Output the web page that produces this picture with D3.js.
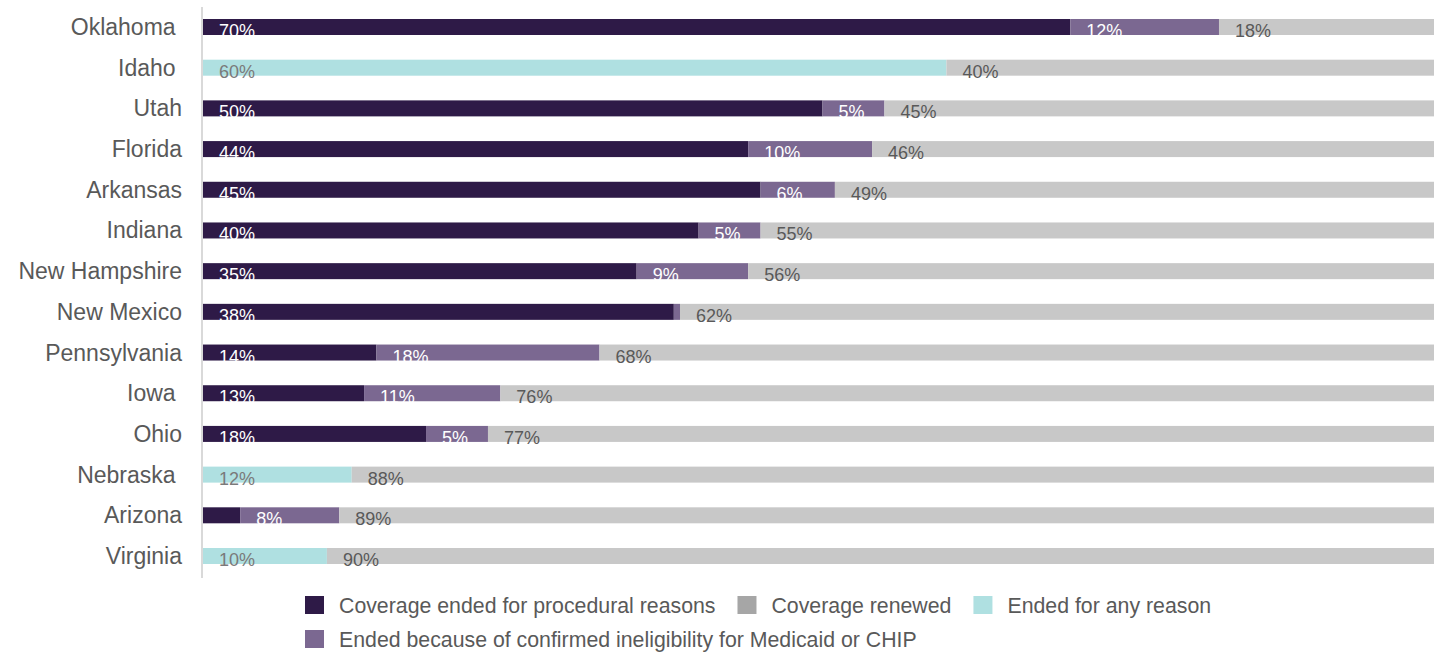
<!DOCTYPE html>
<html>
<head>
<meta charset="utf-8">
<script src="https://cdn.jsdelivr.net/npm/d3@7"></script>
<style>
  body { margin: 0; background: #fff; }
  svg { display: block; font-family: "Liberation Sans", Arial, sans-serif; }
  .cat { white-space: pre; }
</style>
</head>
<body>
<script>
// states, top to bottom (some labels carry a trailing space in the source)
var states = ["Oklahoma ", "Idaho ", "Utah", "Florida", "Arkansas", "Indiana",
  "New Hampshire", "New Mexico", "Pennsylvania", "Iowa ", "Ohio", "Nebraska ",
  "Arizona", "Virginia"];

// percent of people per outcome
var procedural = [70, 0, 50, 44, 45, 40, 35, 38, 14, 13, 18, 0, 3, 0];
var ineligible = [12, 0, 5, 10, 6, 5, 9, 0.5, 18, 11, 5, 0, 8, 0];
var anyReason  = [0, 60, 0, 0, 0, 0, 0, 0, 0, 0, 0, 12, 0, 10];
var renewed    = [18, 40, 45, 46, 49, 55, 56, 62, 68, 76, 77, 88, 89, 90];

var seriesNames = ["Coverage ended for procedural reasons", "Coverage renewed",
  "Ended for any reason", "Ended because of confirmed ineligibility for Medicaid or CHIP"];

var W = 1434, H = 660;
var colors = {procedural: "#2e1a47", ineligible: "#7b6891", anyReason: "#afe0e1", renewed: "#c8c8c8"};
var labelColors = {procedural: "#ffffff", ineligible: "#ffffff", anyReason: "#7a7a7a", renewed: "#595959"};

var rows = states.map(function(s, i){
  return {state: s, procedural: procedural[i], ineligible: ineligible[i],
    anyReason: anyReason[i], renewed: renewed[i]};
});
var keys = ["procedural", "ineligible", "anyReason", "renewed"];
var stack = d3.stack().keys(keys)(rows);

var x = d3.scaleLinear().domain([0, 100]).range([203, 1442]);
var y = d3.scalePoint().domain(states).range([27, 556]);
var barH = 16;

var svg = d3.select("body").append("svg").attr("width", W).attr("height", H);

// vertical axis line
svg.append("line")
  .attr("x1", 202).attr("x2", 202).attr("y1", 7).attr("y2", 578)
  .attr("stroke", "#d9d9d9").attr("stroke-width", 2);

// category labels
svg.append("g").selectAll("text")
  .data(states).enter().append("text")
  .attr("class", "cat")
  .attr("x", 182)
  .attr("y", function(d){ return y(d) + 8; })
  .attr("text-anchor", "end")
  .attr("font-size", "23px")
  .attr("fill", "#595959")
  .text(function(d){ return d; });

var layers = svg.append("g").selectAll("g")
  .data(stack).enter().append("g");

layers.selectAll("rect")
  .data(function(s){ return s.map(function(d){ return {key: s.key, d: d}; }); })
  .enter().append("rect")
  .attr("x", function(o){ return x(o.d[0]); })
  .attr("y", function(o){ return y(o.d.data.state) - barH / 2; })
  .attr("width", function(o){ return x(o.d[1]) - x(o.d[0]); })
  .attr("height", barH)
  .attr("fill", function(o){ return colors[o.key]; });

// value labels, hidden for the slimmest segments
layers.selectAll("text")
  .data(function(s){
    return s.map(function(d){ return {key: s.key, d: d}; })
      .filter(function(o){ return o.d[1] - o.d[0] >= 4; });
  })
  .enter().append("text")
  .attr("x", function(o){ return x(o.d[0]) + 16; })
  .attr("y", function(o){ return y(o.d.data.state) + 10; })
  .attr("font-size", "18px")
  .attr("fill", function(o){ return labelColors[o.key]; })
  .text(function(o){ return Math.round(o.d[1] - o.d[0]) + "%"; });

// legend
var legendKeys = ["procedural", "renewed", "anyReason", "ineligible"];
var legendColors = {procedural: "#2e1a47", renewed: "#a6a6a6", anyReason: "#afe0e1", ineligible: "#7b6891"};
var lx = 305, rowY = [605, 639];
legendKeys.forEach(function(k, i){
  var row = i < 3 ? 0 : 1;
  if (i === 3) lx = 305;
  var g = svg.append("g");
  g.append("rect")
    .attr("x", lx).attr("y", rowY[row] - 9)
    .attr("width", 19).attr("height", 18)
    .attr("fill", legendColors[k]);
  var t = g.append("text")
    .attr("x", lx + 34).attr("y", rowY[row] + 8)
    .attr("font-size", "21.3px")
    .attr("fill", "#595959")
    .text(seriesNames[i]);
  lx = lx + 34 + t.node().getComputedTextLength() + 22;
});
</script>
</body>
</html>
